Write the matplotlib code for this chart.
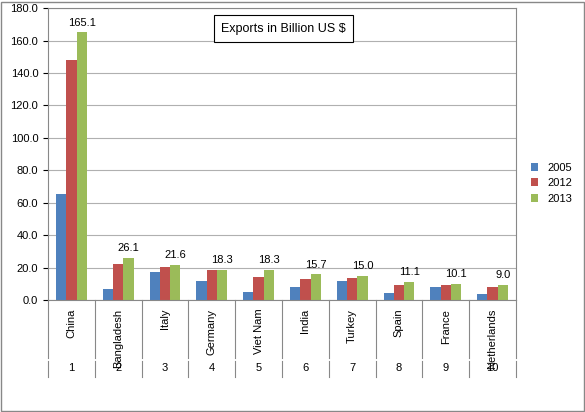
import matplotlib.pyplot as plt
import numpy as np

countries = ["China", "Bangladesh", "Italy", "Germany", "Viet Nam", "India",
             "Turkey", "Spain", "France", "Netherlands"]
ranks = ["1", "2", "3", "4", "5", "6", "7", "8", "9", "10"]
v2005 = [65.6, 6.5, 17.2, 11.5, 4.8, 8.0, 11.8, 4.0, 8.0, 3.5]
v2012 = [148.0, 22.0, 20.5, 18.7, 14.0, 13.0, 13.5, 9.0, 9.0, 8.0]
v2013 = [165.1, 26.1, 21.6, 18.3, 18.3, 15.7, 15.0, 11.1, 10.1, 9.0]

plt.rcParams['font.family'] = ['Liberation Sans', 'DejaVu Sans']
fig = plt.figure(figsize=(5.85, 4.12), dpi=100)
fig.patches.append(plt.Rectangle((0.002, 0.002), 0.996, 0.994, transform=fig.transFigure,
                                 fill=False, edgecolor="#888888", lw=1))
ax = fig.add_axes([0.082, 0.272, 0.80, 0.708])

x = np.arange(len(countries))
w = 0.22
ax.bar(x - w, v2005, w, color="#4F81BD", label="2005")
ax.bar(x, v2012, w, color="#C0504D", label="2012")
ax.bar(x + w, v2013, w, color="#9BBB59", label="2013")
for xi, v in zip(x, v2013):
    ax.text(xi + w, v + 3, f"{v:.1f}", ha="center", va="bottom", fontsize=8)

ax.set_xlim(-0.5, len(countries) - 0.5)
ax.set_ylim(0, 180)
ax.set_yticks(np.arange(0, 181, 20))
ax.set_yticklabels([f"{t:.1f}" for t in range(0, 181, 20)], fontsize=8)
ax.yaxis.grid(True, color="#b0b0b0", lw=0.8)
ax.set_axisbelow(True)
ax.set_xticks([])
for s in ax.spines.values():
    s.set_color("#888888")

# multi-level category axis
trans = ax.get_xaxis_transform()
for i in range(len(countries) + 1):
    ax.plot([i - 0.5, i - 0.5], [0, -0.2], transform=trans, color="#888888", lw=0.8, clip_on=False)
    ax.plot([i - 0.5, i - 0.5], [-0.21, -0.265], transform=trans, color="#888888", lw=0.8, clip_on=False)
for xi, c, r in zip(x, countries, ranks):
    ax.text(xi, -0.03, c, rotation=90, ha="center", va="top", fontsize=8, transform=trans)
    ax.text(xi, -0.235, r, ha="center", va="center", fontsize=8, transform=trans)

ax.text(0.37, 0.93, "Exports in Billion US $", transform=ax.transAxes, fontsize=9,
        ha="left", va="center",
        bbox=dict(boxstyle="square,pad=0.6", fc="white", ec="black", lw=0.8))

ax.legend(loc="center left", bbox_to_anchor=(1.01, 0.4), frameon=False, fontsize=8,
          handlelength=0.7, handleheight=0.7)

fig.savefig("out.png", dpi=100)
